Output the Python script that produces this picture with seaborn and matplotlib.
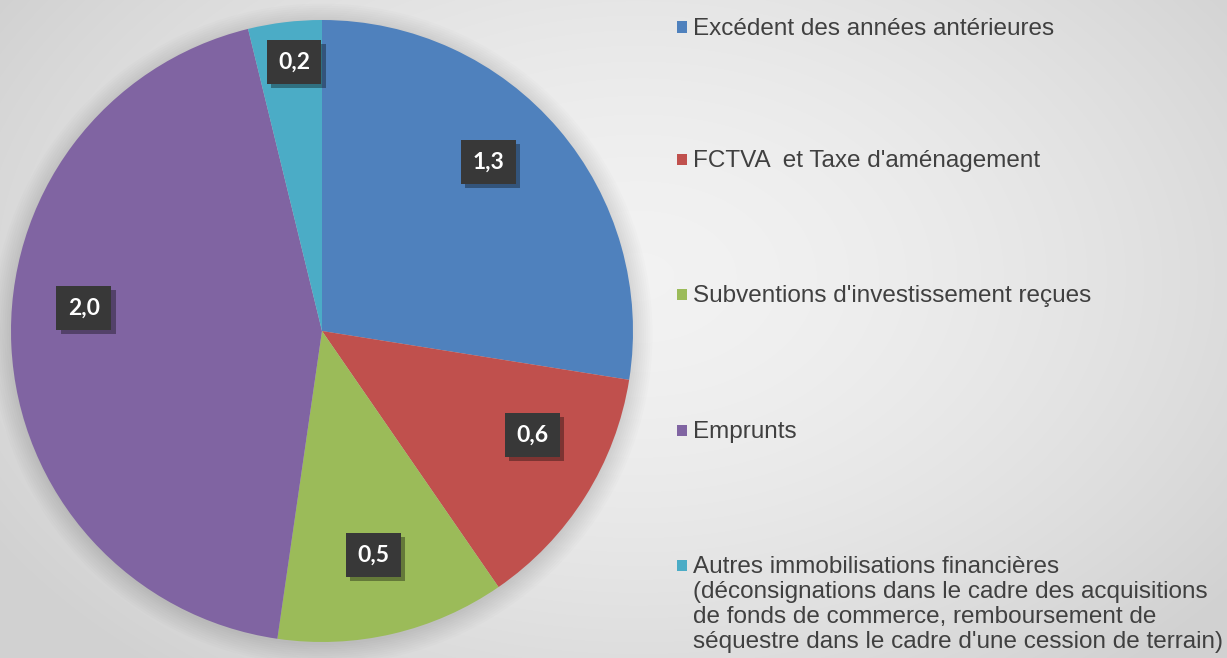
import numpy as np
import matplotlib
matplotlib.use("Agg")
import matplotlib.pyplot as plt
import matplotlib.patches as mpatches
import matplotlib.patheffects as pe
import seaborn as sns

# ---- data ----
categories = [
    "Excédent des années antérieures",
    "FCTVA  et Taxe d'aménagement",
    "Subventions d'investissement reçues",
    "Emprunts",
    "Autres immobilisations financières\n(déconsignations dans le cadre des acquisitions\nde fonds de commerce, remboursement de\nséquestre dans le cadre d'une cession de terrain)",
]
values = [1.26, 0.59, 0.545, 2.01, 0.175]
colors = ["#4f81bd", "#c0504d", "#9bbb59", "#8064a2", "#4bacc6"]

# ---- layout / style (not data) ----
label_radius = [0.77, 0.75, 0.73, 0.77, 0.88]
label_angle_nudge = [5.4, 6.6, 0.0, -9.0, -1.0]

sns.set_theme(style="white")
palette = sns.color_palette(colors)

W, H, DPI = 1227, 658, 100
fig = plt.figure(figsize=(W / DPI, H / DPI), dpi=DPI)

# background radial gradient
bg = fig.add_axes([0, 0, 1, 1], zorder=-10)
yy, xx = np.mgrid[0:H, 0:W]
d = np.sqrt(((xx - W * 0.52) / (W * 0.62)) ** 2 + ((yy - H * 0.42) / (H * 0.78)) ** 2)
d = np.clip(d, 0, 1)
g = 0.95 - 0.13 * d ** 1.6
bg.imshow(np.dstack([g, g, g]), extent=[0, 1, 0, 1], aspect="auto", origin="upper")
bg.set_axis_off()

# pie axes
cx, cy, r = 322, 331, 311
ax = fig.add_axes([(cx - r) / W, (H - cy - r) / H, 2 * r / W, 2 * r / H])

# soft shadow halo
for k in range(10):
    ax.add_patch(mpatches.Circle((0.0, -0.01), 1.0 + 0.007 * k, color="black",
                                 alpha=0.012, zorder=0, lw=0, clip_on=False))

wedges, _ = ax.pie(values, colors=palette, startangle=90, counterclock=False,
                   radius=1.0, wedgeprops=dict(linewidth=0))
for w in wedges:
    w.set_zorder(2)

for i, w in enumerate(wedges):
    ang = np.deg2rad((w.theta1 + w.theta2) / 2 + label_angle_nudge[i])
    x, y = label_radius[i] * np.cos(ang), label_radius[i] * np.sin(ang) - 0.01
    txt = f"{values[i]:.1f}".replace(".", ",")
    t = ax.text(x, y, txt, ha="center", va="center", fontsize=16.5, fontweight="bold",
                family=["Lato", "DejaVu Sans"], color="white", zorder=4,
                bbox=dict(boxstyle="square,pad=0.5", fc="#383838", ec="none"))
    t.get_bbox_patch().set_path_effects(
        [pe.SimplePatchShadow(offset=(3, -3), shadow_rgbFace="black", alpha=0.35),
         pe.Normal()])

ax.set_xlim(-1, 1)
ax.set_ylim(-1, 1)
ax.set_aspect("equal")
ax.set_axis_off()

# legend drawn manually
leg_y = [27, 159, 294, 430, 565]
for i, cat in enumerate(categories):
    yf = 1 - leg_y[i] / H
    fig.patches.append(mpatches.Rectangle((677 / W, yf - 5.5 / H), 10 / W, 11 / H,
                                          transform=fig.transFigure, fc=colors[i],
                                          ec="none", zorder=5))
    fig.text(693 / W, yf + 9 / H, cat, ha="left", va="top", fontsize=17.5,
             family=["Liberation Sans", "DejaVu Sans"], color="#404040",
             linespacing=1.18)

fig.savefig("out.png", dpi=DPI)
